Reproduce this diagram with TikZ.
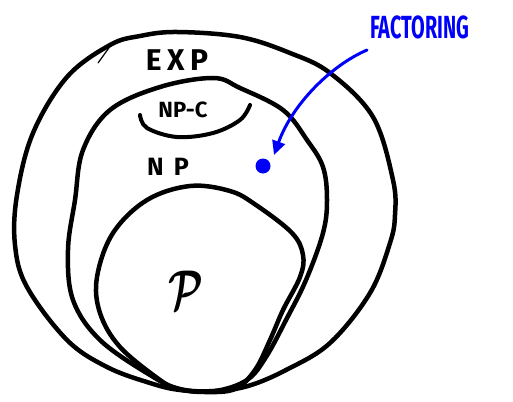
\documentclass[tikz,border=0pt]{standalone}
\usepackage{fontspec}
\usepackage{amsmath,amsbsy}
\setmainfont{Fira Sans}
\usetikzlibrary{arrows.meta}
\definecolor{pen}{RGB}{0,0,250}
\begin{document}
\begin{tikzpicture}[x=1pt,y=-1pt,
  setline/.style={line width=4.5pt,line join=round,line cap=round,black},
  lbl/.style={inner sep=0pt,font=\bfseries},
  bluepen/.style={line width=3pt,pen,line cap=round}]
\useasboundingbox (0,0) rectangle (513,401);
% EXP
\draw[setline] plot[smooth cycle,tension=0.6] coordinates {
 (177,32) (240,37) (290,53) (330,73) (373,117) (393,180) (395,215) (390,243)
 (370,293) (330,343) (286,370) (248,386) (215,391) (180,390) (150,383) (107,367)
 (67,340) (27,287) (15,245) (17,195) (33,133) (67,77) (110,45) (140,36)};
\draw[line width=1.2pt,line cap=round] (98,63) -- (111,45);
% NP
\draw[setline] plot[smooth cycle,tension=0.6] coordinates {
 (213,78) (240,88) (283,110) (307,140) (323,167) (327,200) (323,233) (306,280)
 (286,320) (266,357) (247,380) (215,391) (180,389) (150,375) (100,340)
 (73,300) (68,250) (75,200) (83,150) (110,110) (160,87)};
% P
\draw[setline] plot[smooth cycle,tension=0.6] coordinates {
 (190,186) (230,191) (256,205) (292,233) (303,255) (300,277) (283,310)
 (270,340) (255,370) (235,389) (205,392) (178,389) (160,380) (120,347)
 (100,313) (97,277) (113,233) (147,200)};
% NP-C
\draw[line width=4pt,line cap=round] plot[smooth,tension=0.6] coordinates {
 (140,115) (147,128) (177,137) (213,133) (240,120) (250,105)};
% labels
\node[lbl] (exp) at (177,60) {\fontsize{30}{30}\selectfont\addfontfeatures{LetterSpace=18}EXP};
\node[lbl] (npc) at (183,110) {\fontsize{22}{22}\selectfont NP-C};
\node[lbl] (np) at (168,167) {\fontsize{25}{25}\selectfont\addfontfeatures{LetterSpace=40}NP};
\node[inner sep=0pt] (p) at (186,290) {\scalebox{3.9}[5.6]{$\boldsymbol{\mathcal{P}}$}};
\node[lbl,text=pen,anchor=west] (fac) at (370,27) {\scalebox{0.62}[1]{\fontsize{32}{32}\selectfont FACTORING}};
% factoring dot and arrow
\node[circle,fill=pen,inner sep=0pt,minimum size=15pt] (dot) at (263,166) {};
\coordinate (astart) at (367,50);
\coordinate (atip) at (274,155);
\draw[bluepen,-{Triangle[length=14pt,width=13pt]}] (astart) .. controls (330,66) and (292,105) .. (atip);
\end{tikzpicture}
\end{document}
